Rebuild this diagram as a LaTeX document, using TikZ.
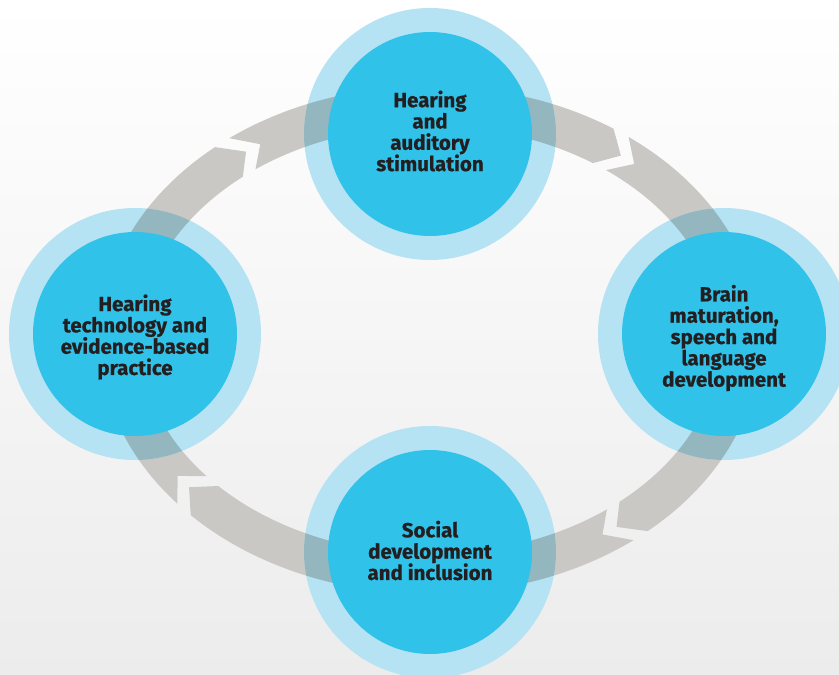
\documentclass[tikz,border=0pt]{standalone}
\usepackage{fontspec}
\setmainfont{Fira Sans}[BoldFeatures={FakeBold=0.6}]
\definecolor{ringgray}{HTML}{C9C8C4}
\definecolor{lightblue}{HTML}{B5E3F3}
\definecolor{overlap}{HTML}{94B6BE}
\definecolor{deepblue}{HTML}{31C2E9}
\definecolor{txt}{HTML}{231F20}
\definecolor{bgbot}{HTML}{ECECED}
\begin{document}
\begin{tikzpicture}[x=1pt,y=-1pt,
  outerc/.style={circle,fill=lightblue,minimum size=252pt,inner sep=0pt},
  innerc/.style={circle,fill=deepblue,minimum size=204pt,inner sep=0pt},
  label/.style={align=center,text=txt,inner sep=0pt,
    font=\fontsize{20.5}{21.3}\selectfont\bfseries},
  ringband/.style={line width=40pt}]
\useasboundingbox (0,0) rectangle (839,675);
\fill[top color=white,bottom color=bgbot] (0,0) rectangle (839,675);
% ring with arrow gaps
\begin{scope}[even odd rule]
  \clip (-20,-20) rectangle (860,700)
    foreach \t/\d/\g in {126.4/4/3.2, 52/4/3.2, -53/4/3.2, 219/4.3/3.5} {
      ({430+340*cos(\t+1.5*\d)},{340-264*sin(\t+1.5*\d)})
      -- ({430+310*cos(\t)},{340-234*sin(\t)})
      -- ({430+280*cos(\t+1.5*\d)},{340-204*sin(\t+1.5*\d)})
      -- ({430+280*cos(\t+1.5*\d-\g)},{340-204*sin(\t+1.5*\d-\g)})
      -- ({430+310*cos(\t-\g)},{340-234*sin(\t-\g)})
      -- ({430+340*cos(\t+1.5*\d-\g)},{340-264*sin(\t+1.5*\d-\g)})
      -- cycle
    };
  \draw[ringband,ringgray] (430,340) ellipse[x radius=310pt,y radius=234pt];
\end{scope}
% outer halos
\node[outerc] (top) at (430,134) {};
\node[outerc] (right) at (724,334) {};
\node[outerc] (bottom) at (430,552) {};
\node[outerc] (left) at (135,334) {};
% ring seen through halos
\begin{scope}
  \clip (top.center) circle[radius=126pt] (right.center) circle[radius=126pt]
        (bottom.center) circle[radius=126pt] (left.center) circle[radius=126pt];
  \draw[ringband,overlap] (430,340) ellipse[x radius=310pt,y radius=234pt];
\end{scope}
% inner discs
\node[innerc] (topi) at (top.center) {};
\node[innerc] (righti) at (right.center) {};
\node[innerc] (bottomi) at (bottom.center) {};
\node[innerc] (lefti) at (left.center) {};
% texts
\node[label] (toptext) at (430,131) {Hearing\\and\\auditory\\stimulation};
\node[label] (righttext) at (724,338) {Brain\\maturation,\\speech and\\language\\development};
\node[label] (bottomtext) at (430,550.5) {Social\\development\\and inclusion};
\node[label] (lefttext) at (135,337) {Hearing\\technology and\\evidence-based\\practice};
\end{tikzpicture}
\end{document}
